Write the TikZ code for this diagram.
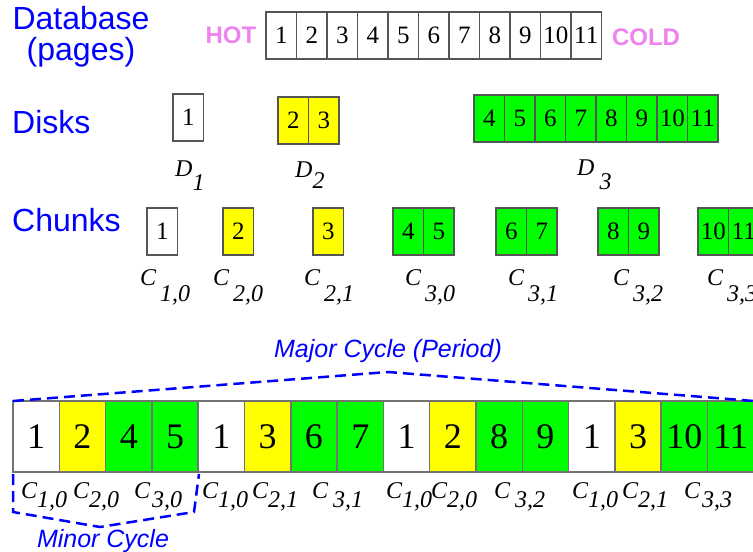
\documentclass[tikz,border=0pt]{standalone}
\usepackage{fontspec}
\setmainfont{Liberation Serif}
\setsansfont{Liberation Sans}
\definecolor{HeadBlue}{HTML}{0000FF}
\definecolor{HotCold}{HTML}{EE82EE}
\definecolor{PageGreen}{HTML}{00FF00}
\definecolor{PageYellow}{HTML}{FFFF00}
\definecolor{Rim}{HTML}{555555}

\begin{document}
\begin{tikzpicture}[x=1pt,y=-1pt,
  page/.style={draw=Rim,line width=1.2pt,minimum width=30.5pt,minimum height=47pt,inner sep=0pt,outer sep=0pt,anchor=north west,font=\fontsize{25}{25}\selectfont},
  slot/.style={draw=black!55,line width=1.5pt,minimum width=46.3pt,minimum height=71pt,inner sep=0pt,outer sep=0pt,anchor=north west,font=\fontsize{36}{36}\selectfont},
  head/.style={text=HeadBlue,font=\sffamily\fontsize{32}{31}\selectfont,align=center},
  tag/.style={text=HotCold,font=\sffamily\bfseries\fontsize{24}{24}\selectfont,inner sep=0pt,anchor=base},
  lbl/.style={font=\itshape\fontsize{24}{24}\selectfont,inner sep=0pt,anchor=base west},
  slbl/.style={font=\itshape\fontsize{24}{24}\selectfont,inner sep=0pt,anchor=base west},
  cyc/.style={draw=HeadBlue,line width=2.5pt,dash pattern=on 11pt off 6pt},
  cyctxt/.style={text=HeadBlue,font=\sffamily\itshape\fontsize{25}{25}\selectfont,inner sep=0pt,anchor=base}
]
\useasboundingbox (0,0) rectangle (753,552);

% headings
\node[head] (dbhead) at (81,37) {Database\\(pages)};
\node[head,anchor=base west,inner sep=0pt] (diskhead) at (12,133) {Disks};
\node[head,anchor=base west,inner sep=0pt] (chunkhead) at (12,231) {Chunks};

% database pages
\foreach \n [count=\i from 0] in {1,...,11}
  \node[page] (db\n) at (266+\i*30.5,12) {\n};
\node[tag] (hot) at (231,43) {HOT};
\node[tag] (cold) at (646,45) {COLD};

% disks
\node[page,fill=white] (d11) at (173,94) {1};
\foreach \n [count=\i from 0] in {2,3}
  \node[page,fill=PageYellow] (d2\n) at (278+\i*30.5,97) {\n};
\foreach \n [count=\i from 0] in {4,...,11}
  \node[page,fill=PageGreen] (d3\n) at (474+\i*30.5,95) {\n};
\node[lbl] (dl1) at (175,176) {D\raisebox{-14pt}{1}};
\node[lbl] (dl2) at (295,177) {D\raisebox{-11pt}{2}};
\node[lbl] (dl3) at (577,175) {D\kern5pt\raisebox{-14pt}{3}};

% chunks
\node[page,fill=white] (c10) at (147,208) {1};
\node[page,fill=PageYellow] (c20) at (223,208) {2};
\node[page,fill=PageYellow] (c21) at (313,208) {3};
\foreach \x/\a/\b/\k in {393/4/5/0,496/6/7/1,598/8/9/2,698/10/11/3}{
  \node[page,fill=PageGreen] (c3\k a) at (\x,208) {\a};
  \node[page,fill=PageGreen] (c3\k b) at (\x+30.5,208) {\b};
}
\foreach \x/\s [count=\i] in {140/{1,0},213/{2,0},304/{2,1},405/{3,0},508/{3,1},613/{3,2},707/{3,3}}
  \node[lbl] (cl\i) at (\x,285) {C\kern4pt\raisebox{-16pt}{\s}};

% schedule
\foreach \n/\c [count=\i from 0] in {1/white,2/PageYellow,4/PageGreen,5/PageGreen,1/white,3/PageYellow,6/PageGreen,7/PageGreen,1/white,2/PageYellow,8/PageGreen,9/PageGreen,1/white,3/PageYellow,10/PageGreen,11/PageGreen}
  \node[slot,fill=\c] (s\i) at (13+\i*46.3,401) {\n};
\foreach \x/\s/\g [count=\i] in {21/{1,0}/0,73/{2,0}/0,134/{3,0}/2,202/{1,0}/0,252/{2,1}/0,312/{3,1}/5,386/{1,0}/0,431/{2,0}/0,494/{3,2}/5,572/{1,0}/0,622/{2,1}/0,684/{3,3}/2}
  \node[slbl] (sl\i) at (\x,498) {C\kern\g pt\raisebox{-9pt}{\s}};

% cycles
\coordinate (peak) at (388,372);
\draw[cyc] (s0.north west) -- (peak) -- (s15.north east);
\node[cyctxt] (major) at (388,357) {Major Cycle (Period)};
\coordinate (m1) at (13,474);
\coordinate (m2) at (13,512);
\coordinate (m3) at (100,527);
\coordinate (m4) at (194,512);
\coordinate (m5) at (199,474);
\draw[cyc] (m1) -- (m2) -- (m3) -- (m4) -- (m5);
\node[cyctxt] (minor) at (103,547) {Minor Cycle};
\end{tikzpicture}
\end{document}
